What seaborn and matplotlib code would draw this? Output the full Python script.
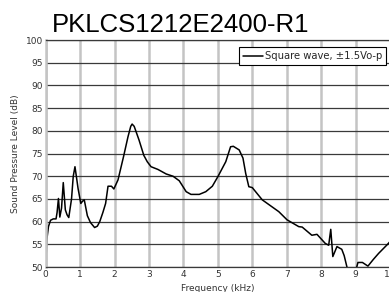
import matplotlib
matplotlib.use("Agg")
import matplotlib.pyplot as plt
import seaborn as sns
import pandas as pd

# data
freq = [0.0, 0.03, 0.08, 0.14, 0.22, 0.30, 0.33, 0.37, 0.41, 0.46, 0.51, 0.57, 0.62, 0.67,
        0.75, 0.80, 0.85, 0.89, 0.94, 1.02, 1.07, 1.12, 1.21, 1.30, 1.42, 1.50, 1.57, 1.66,
        1.74, 1.81, 1.91, 1.98, 2.10, 2.26, 2.39, 2.47, 2.51, 2.57, 2.64, 2.71, 2.85, 2.95,
        3.06, 3.26, 3.50, 3.70, 3.88, 4.08, 4.22, 4.46, 4.65, 4.84, 5.00, 5.23, 5.37, 5.45,
        5.62, 5.73, 5.81, 5.90, 6.00, 6.29, 6.77, 7.01, 7.35, 7.45, 7.73, 7.88, 8.12, 8.22,
        8.28, 8.34, 8.46, 8.60, 8.67, 8.75, 8.85, 8.98, 9.07, 9.20, 9.36, 9.52, 9.67, 9.93, 10.0]
spl = [50.0, 55.9, 58.9, 60.3, 60.6, 60.6, 62.0, 65.1, 61.0, 63.0, 68.6, 62.6, 61.5, 60.9,
       65.0, 70.0, 72.1, 70.0, 67.3, 64.0, 64.5, 64.8, 61.3, 59.8, 58.7, 59.0, 60.0, 62.0,
       64.0, 67.8, 67.8, 67.2, 69.2, 74.3, 78.7, 81.0, 81.5, 81.0, 79.5, 78.0, 74.6, 73.2,
       72.1, 71.5, 70.5, 70.0, 69.0, 66.6, 66.0, 66.0, 66.6, 67.8, 69.9, 73.2, 76.5, 76.6,
       75.8, 74.0, 70.6, 67.7, 67.5, 64.8, 62.2, 60.4, 58.9, 58.8, 57.0, 57.2, 55.2, 54.8,
       58.3, 52.3, 54.5, 53.9, 52.5, 50.0, 48.5, 48.5, 51.0, 51.0, 50.2, 51.7, 53.0, 55.0, 55.6]
x_ticks = list(range(0, 11))
y_ticks = list(range(50, 101, 5))
title = "PKLCS1212E2400-R1"
series_name = "Square wave, \u00b11.5Vo-p"

sns.set_style("white")

df = pd.DataFrame({"Frequency (kHz)": freq, "Sound Pressure Level (dB)": spl})

fig = plt.figure(figsize=(3.89, 2.92), dpi=100)
ax = fig.add_axes([0.1175, 0.0856, 0.885, 0.777])

sns.lineplot(data=df, x="Frequency (kHz)", y="Sound Pressure Level (dB)", ax=ax,
             color="black", linewidth=1.1, label=series_name)

ax.set_xlim(0, 10)
ax.set_ylim(50, 100)
ax.set_xticks(x_ticks)
ax.set_yticks(y_ticks)

# grid: light thick verticals, dark thin horizontals
for xv in x_ticks:
    ax.axvline(xv, color="#c4c4c4", linewidth=1.8, zorder=0)
for yv in y_ticks:
    ax.axhline(yv, color="#3a3a3a", linewidth=0.9, zorder=0)

for s in ["left", "right"]:
    ax.spines[s].set_color("#c4c4c4")
    ax.spines[s].set_linewidth(1.8)
for s in ["top", "bottom"]:
    ax.spines[s].set_color("#3a3a3a")
    ax.spines[s].set_linewidth(0.9)

ax.tick_params(length=0, labelsize=6.5, labelcolor="#333333", pad=2)
ax.set_xlabel("Frequency (kHz)", fontsize=6.5, color="#333333", labelpad=4)
ax.set_ylabel("Sound Pressure Level (dB)", fontsize=6.5, color="#333333", labelpad=4)

leg = ax.legend(loc="upper right", bbox_to_anchor=(0.992, 0.839), bbox_transform=fig.transFigure,
                borderaxespad=0, fontsize=7.2, frameon=True, fancybox=False,
                handlelength=2.0, handletextpad=0.2, borderpad=0.4)
leg.get_frame().set_edgecolor("black")
leg.get_frame().set_linewidth(0.8)
leg.get_frame().set_alpha(1)

fig.text(0.465, 0.89, title, fontsize=18.5, family="Liberation Sans",
         ha="center", va="baseline", color="black")

fig.savefig("out.png", dpi=100)
